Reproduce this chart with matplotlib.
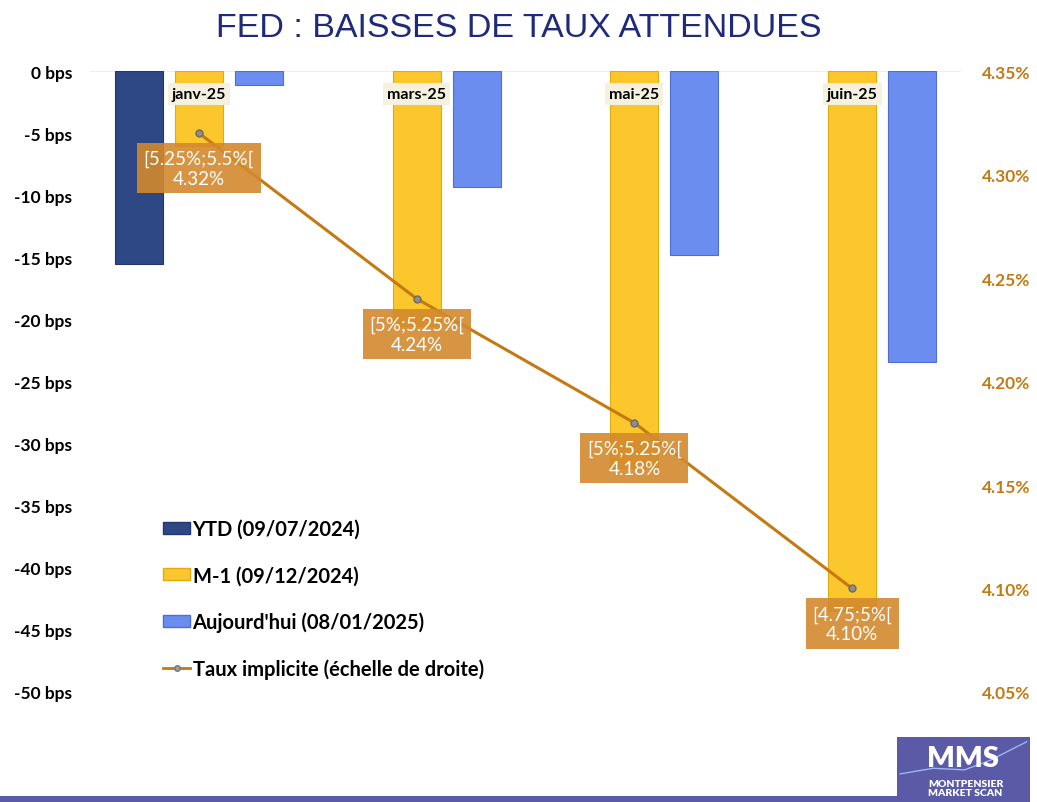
import matplotlib.pyplot as plt
from matplotlib.patches import Patch, Rectangle
from matplotlib.lines import Line2D
import numpy as np

# données
mois = ["janv-25", "mars-25", "mai-25", "juin-25"]
ytd = [-15.5, 0, 0, 0]
m_1 = [-6.0, -20.5, -32.0, -43.5]
aujourdhui = [-1.1, -9.3, -14.8, -23.4]
taux = [4.32, 4.24, 4.18, 4.10]
fourchettes = ["[5.25%;5.5%[", "[5%;5.25%[", "[5%;5.25%[", "[4.75;5%["]
bps_ticks = [0, -5, -10, -15, -20, -25, -30, -35, -40, -45, -50]
pct_ticks = [4.35, 4.30, 4.25, 4.20, 4.15, 4.10, 4.05]

c_ytd = "#2E4785"
c_m1 = "#FCC72C"
c_auj = "#6B8DF0"
c_ligne = "#C47A12"
c_box = "#D3892E"
c_logo = "#5A5AA6"

plt.rcParams['font.family'] = ['Lato', 'DejaVu Sans']

fig = plt.figure(figsize=(10.37, 8.03), dpi=100)
ax = fig.add_axes([0.0868, 0.137, 0.84, 0.7733])

x = np.arange(len(mois))
w = 0.22
ax.bar(x[:1] - 0.275, ytd[:1], w, color=c_ytd, edgecolor="#22386C", linewidth=0.8, zorder=2)
ax.bar(x, m_1, w, color=c_m1, edgecolor="#E0AA10", linewidth=0.8, zorder=2)
ax.bar(x + 0.275, aujourdhui, w, color=c_auj, edgecolor="#4F6FD0", linewidth=0.8, zorder=2)

ax.set_xlim(-0.5, 3.5)
ax.set_ylim(-50, 0)
ax.set_yticks(bps_ticks)
ax.set_yticklabels([f"{t} bps" for t in bps_ticks], fontsize=12.5, fontweight="bold")
ax.tick_params(axis="y", length=0, pad=13)
ax.set_xticks([])
for s in ax.spines.values():
    s.set_visible(False)
ax.axhline(0, color="#EEEEEE", linewidth=0.8, zorder=1)

for i, m in enumerate(mois):
    ax.text(x[i], -1.85, m, ha="center", va="center", fontsize=11.5, fontweight="bold",
            bbox=dict(boxstyle="square,pad=0.25", fc="#F6F0DE", ec="none"), zorder=4)

ax2 = ax.twinx()
ax2.set_ylim(4.05, 4.35)
ax2.set_yticks(pct_ticks)
ax2.set_yticklabels([f"{t:.2f}%" for t in pct_ticks], fontsize=12.5, fontweight="bold", color=c_ligne)
ax2.tick_params(axis="y", length=0, pad=15)
for s in ax2.spines.values():
    s.set_visible(False)
ax2.plot(x, taux, color=c_ligne, linewidth=2.2, zorder=3)
ax2.plot(x, taux, "o", color="#8E8E8E", markeredgecolor="#6A6A6A", markersize=5, zorder=6)

for i in range(len(mois)):
    ax2.annotate(f"{fourchettes[i]}\n{taux[i]:.2f}%", (x[i], taux[i]), xytext=(0, -12),
                 textcoords="offset points", ha="center", va="top", fontsize=13.5,
                 color="white", linespacing=1.2,
                 bbox=dict(boxstyle="square,pad=0.35", fc=c_box, ec="none", alpha=0.9), zorder=5)

handles = [
    Patch(fc=c_ytd, ec="#22386C"),
    Patch(fc=c_m1, ec="#E0AA10"),
    Patch(fc=c_auj, ec="#4F6FD0"),
    Line2D([0], [0], color=c_ligne, linewidth=2, marker="o", markersize=4,
           markerfacecolor="#A0A0A0", markeredgecolor="#777777"),
]
labels = ["YTD (09/07/2024)", "M-1 (09/12/2024)", "Aujourd'hui (08/01/2025)",
          "Taux implicite (échelle de droite)"]
leg = fig.legend(handles, labels, loc="upper left", bbox_to_anchor=(0.14, 0.375),
                 frameon=False, prop=dict(size=14.5, weight="bold"), labelspacing=1.3,
                 handlelength=1.35, handleheight=0.5, handletextpad=0.1)

fig.text(0.5, 0.964, "FED : BAISSES DE TAUX ATTENDUES", ha="center", va="center",
         fontsize=24.5, color="#1F2A78", family="Liberation Sans")

# bandeau et logo
fig.patches.append(Rectangle((0, 0), 0.87, 0.007, transform=fig.transFigure,
                             fc=c_logo, ec="none"))
fig.patches.append(Rectangle((0.865, 0), 0.128, 0.081, transform=fig.transFigure,
                             fc=c_logo, ec="none"))
fig.add_artist(Line2D([0.868, 0.90, 0.93, 0.955, 0.99], [0.035, 0.042, 0.040, 0.052, 0.075],
                      transform=fig.transFigure, color="#9FB4F5", linewidth=1))
fig.text(0.929, 0.055, "MMS", ha="center", va="center", fontsize=21, fontweight="heavy", color="white")
fig.text(0.931, 0.017, "MONTPENSIER\nMARKET SCAN", ha="center", va="center", fontsize=7.5,
         fontweight="heavy", color="white", linespacing=1.0)

fig.savefig("out.png", dpi=100)
